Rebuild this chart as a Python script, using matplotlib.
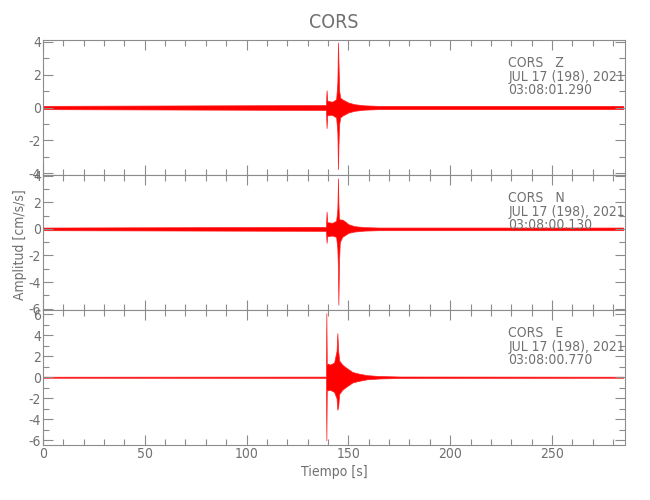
import matplotlib
matplotlib.use("Agg")
import matplotlib.pyplot as plt
from matplotlib.ticker import MultipleLocator
from matplotlib import font_manager

plt.rcParams['axes.unicode_minus'] = False
plt.rcParams['font.family'] = 'DejaVu Sans'
# narrow look of the original vector font: use the condensed face if there is one
has_cond = any(f.name == 'DejaVu Sans' and f.stretch == 'condensed'
               for f in font_manager.fontManager.ttflist)
if has_cond:
    plt.rcParams['font.stretch'] = 'condensed'
fs = 10 if has_cond else 9

# --- data: envelope of each component (time [s], upper, lower) ---
station = "CORS"
date_txt = "JUL 17 (198), 2021"

t_z = [0, 139.0, 139.3, 139.6, 140.0, 142.0, 144.0, 144.6, 144.9, 145.2, 145.5, 146.0, 147.0, 150.0, 153.0, 158.0, 165.0, 285]
up_z = [0.1, 0.15, 1.05, 0.45, 0.4, 0.35, 0.5, 1.5, 3.95, 2.5, 1.0, 0.6, 0.5, 0.3, 0.2, 0.13, 0.1, 0.1]
lo_z = [-0.1, -0.15, -1.25, -0.5, -0.45, -0.45, -0.6, -1.5, -3.75, -2.0, -1.0, -0.6, -0.5, -0.3, -0.2, -0.13, -0.1, -0.1]

t_n = [0, 139.0, 139.3, 139.6, 140.0, 142.0, 144.0, 144.6, 144.9, 145.1, 145.4, 145.8, 147.0, 148.0, 150.0, 153.0, 158.0, 165.0, 285]
up_n = [0.1, 0.15, 1.3, 0.5, 0.5, 0.45, 0.6, 1.5, 3.8, 2.0, 0.8, 0.7, 0.7, 0.6, 0.35, 0.2, 0.13, 0.1, 0.1]
lo_n = [-0.1, -0.15, -1.05, -0.5, -0.55, -0.5, -0.6, -1.5, -3.0, -5.7, -2.5, -1.0, -0.6, -0.5, -0.3, -0.2, -0.13, -0.1, -0.1]

t_e = [0, 139.0, 139.2, 139.4, 139.6, 140.0, 141.0, 143.0, 144.2, 144.6, 145.0, 145.5, 147.0, 149.0, 152.0, 155.0, 159.0, 165.0, 175.0, 285]
up_e = [0.05, 0.06, 6.1, 1.3, 1.2, 1.3, 1.2, 1.4, 2.5, 4.2, 2.5, 1.6, 1.2, 0.9, 0.5, 0.35, 0.2, 0.12, 0.07, 0.05]
lo_e = [-0.05, -0.06, -6.0, -1.3, -1.2, -1.25, -1.2, -1.4, -2.0, -3.1, -2.8, -1.6, -1.2, -0.9, -0.5, -0.35, -0.2, -0.12, -0.07, -0.05]

comps = ["Z", "N", "E"]
times = ["03:08:01.290", "03:08:00.130", "03:08:00.770"]
ylims = [(-4.1, 4.1), (-6.1, 4.05), (-6.45, 6.4)]

gray = '#8c8c8c'
txt = '#707070'

fig = plt.figure(figsize=(6.5, 5), dpi=100)
axes = fig.subplots(3, 1, sharex=True)
plt.subplots_adjust(left=0.066, right=0.962, top=0.92, bottom=0.11, hspace=0)

data = [(t_z, up_z, lo_z), (t_n, up_n, lo_n), (t_e, up_e, lo_e)]
for i, ax in enumerate(axes):
    t, up, lo = data[i]
    ax.fill_between(t, lo, up, color='#ff0000', lw=0.5, edgecolor='#ff2020')
    ax.set_xlim(0, 286)
    ax.set_ylim(*ylims[i])
    ax.xaxis.set_major_locator(MultipleLocator(50))
    ax.xaxis.set_minor_locator(MultipleLocator(10))
    ax.yaxis.set_major_locator(MultipleLocator(2))
    ax.yaxis.set_minor_locator(MultipleLocator(1))
    ax.tick_params(which='both', direction='in', top=True, right=True,
                   color=gray, labelcolor=txt, labelsize=fs, width=0.8, pad=1.5)
    ax.tick_params(which='major', length=7)
    ax.tick_params(which='minor', length=4)
    for s in ax.spines.values():
        s.set_color(gray)
        s.set_linewidth(0.8)
    ax.text(0.799, 0.83, f"{station}   {comps[i]}", transform=ax.transAxes,
            va='center', ha='left', fontsize=fs, color=txt)
    ax.text(0.799, 0.728, date_txt, transform=ax.transAxes,
            va='center', ha='left', fontsize=fs, color=txt)
    ax.text(0.799, 0.63, times[i], transform=ax.transAxes,
            va='center', ha='left', fontsize=fs, color=txt)

axes[2].set_xlabel("Tiempo [s]", fontsize=fs, color=txt, labelpad=3)
fig.text(0.031, 0.51, "Amplitud [cm/s/s]", rotation=90, va='center', ha='center',
         fontsize=fs, color=txt)
fig.text(0.514, 0.955, station, ha='center', va='center', fontsize=14, color=txt)

fig.savefig("out.png", dpi=100)
